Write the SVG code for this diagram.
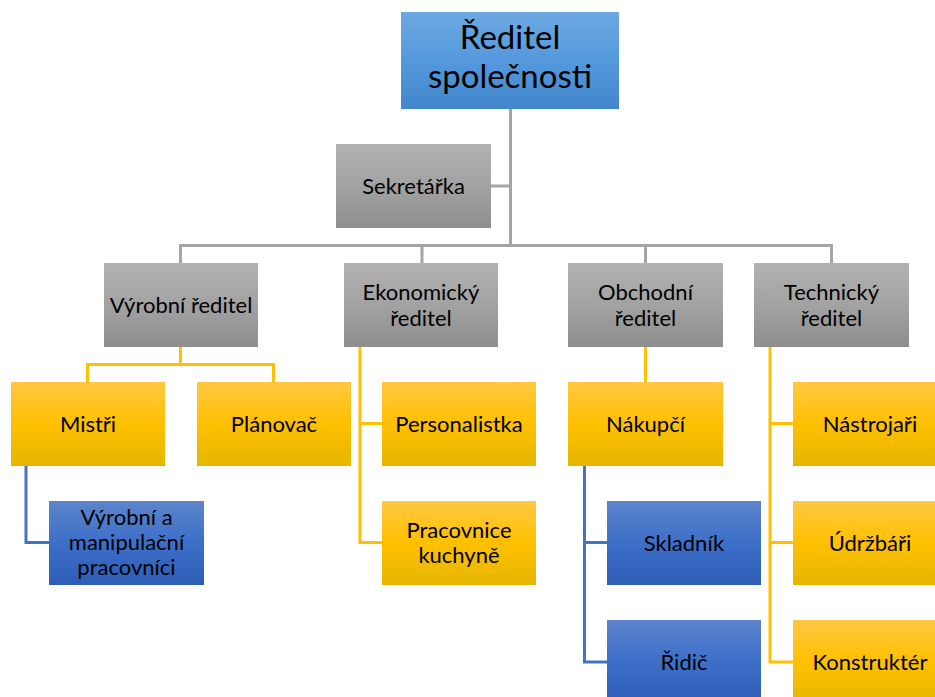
<svg xmlns="http://www.w3.org/2000/svg" width="935" height="697" viewBox="0 0 935 697">
<defs>
<linearGradient id="gGray" x1="0" y1="0" x2="0" y2="1"><stop offset="0" stop-color="#b2b2b2"/><stop offset="0.5" stop-color="#a2a2a2"/><stop offset="1" stop-color="#8e8e8e"/></linearGradient>
<linearGradient id="gYel" x1="0" y1="0" x2="0" y2="1"><stop offset="0" stop-color="#ffc843"/><stop offset="0.5" stop-color="#ffc000"/><stop offset="1" stop-color="#e5b600"/></linearGradient>
<linearGradient id="gBlue" x1="0" y1="0" x2="0" y2="1"><stop offset="0" stop-color="#5d84cc"/><stop offset="0.5" stop-color="#3c6fc8"/><stop offset="1" stop-color="#2e5db6"/></linearGradient>
<linearGradient id="gTop" x1="0" y1="0" x2="0" y2="1"><stop offset="0" stop-color="#6ea8e2"/><stop offset="0.5" stop-color="#5499dc"/><stop offset="1" stop-color="#4287cd"/></linearGradient>
</defs>
<style>
text{font-family:Lato,"Liberation Sans",sans-serif;font-size:22px;fill:#000;text-anchor:middle}
.big{font-size:33px}
.gray{fill:url(#gGray)}
.yel{fill:url(#gYel)}
.blue{fill:url(#gBlue)}
.c{fill:none;stroke-width:3}
.cg{stroke:#a5a5a5}
.cy{stroke:#ffc000}
.cb{stroke:#4472c4}
</style>
<rect width="935" height="697" fill="#fff"/>
<g id="connectors">
<path class="c cg" d="M510.5 109V245.5M491 186H510.5M180.5 263V245.5H831.5V263M422 245.5V263M645.5 245.5V263"/>
<path class="c cy" d="M180.5 347V364.5M87.5 382V364.5H273.5V382"/>
<path class="c cy" d="M360 347V542.5H382M360 423.5H382"/>
<path class="c cy" d="M645.5 347V382"/>
<path class="c cy" d="M770 347V662H793M770 423.5H793M770 542.5H793"/>
<path class="c cb" d="M26 466V542.5H49"/>
<path class="c cb" d="M584.5 466V662H607M584.5 542.5H607"/>
</g>
<g id="n-reditel"><rect x="401" y="12" width="218" height="97" fill="url(#gTop)"/><text class="big" x="510" y="49">Ředitel</text><text class="big" x="510" y="88">společnosti</text></g>
<g id="n-sekretarka"><rect class="gray" x="336" y="144" width="155" height="84"/><text x="413.5" y="194">Sekretářka</text></g>
<g id="n-vyrobni"><rect class="gray" x="104" y="263" width="154" height="84"/><text x="181" y="313">Výrobní ředitel</text></g>
<g id="n-ekonomicky"><rect class="gray" x="344" y="263" width="154" height="84"/><text x="421" y="300">Ekonomický</text><text x="421" y="326">ředitel</text></g>
<g id="n-obchodni"><rect class="gray" x="568" y="263" width="155" height="84"/><text x="645.5" y="300">Obchodní</text><text x="645.5" y="326">ředitel</text></g>
<g id="n-technicky"><rect class="gray" x="754" y="263" width="155" height="84"/><text x="831.5" y="300">Technický</text><text x="831.5" y="326">ředitel</text></g>
<g id="n-mistri"><rect class="yel" x="11" y="382" width="154" height="84"/><text x="88" y="432">Mistři</text></g>
<g id="n-planovac"><rect class="yel" x="197" y="382" width="154" height="84"/><text x="274" y="432">Plánovač</text></g>
<g id="n-personalistka"><rect class="yel" x="382" y="382" width="154" height="84"/><text x="459" y="432">Personalistka</text></g>
<g id="n-nakupci"><rect class="yel" x="568" y="382" width="155" height="84"/><text x="645.5" y="432">Nákupčí</text></g>
<g id="n-nastrojari"><rect class="yel" x="793" y="382" width="154" height="84"/><text x="870" y="432">Nástrojaři</text></g>
<g id="n-vyrobni-prac"><rect class="blue" x="49" y="501" width="155" height="84"/><text x="126.5" y="525">Výrobní a</text><text x="126.5" y="550">manipulační</text><text x="126.5" y="575">pracovníci</text></g>
<g id="n-pracovnice"><rect class="yel" x="382" y="501" width="154" height="84"/><text x="459" y="538">Pracovnice</text><text x="459" y="563">kuchyně</text></g>
<g id="n-skladnik"><rect class="blue" x="607" y="501" width="154" height="84"/><text x="684" y="551">Skladník</text></g>
<g id="n-udrzbari"><rect class="yel" x="793" y="501" width="154" height="84"/><text x="870" y="551">Údržbáři</text></g>
<g id="n-ridic"><rect class="blue" x="607" y="620" width="154" height="84"/><text x="684" y="670">Řidič</text></g>
<g id="n-konstrukter"><rect class="yel" x="793" y="620" width="154" height="84"/><text x="870" y="670">Konstruktér</text></g>
</svg>
